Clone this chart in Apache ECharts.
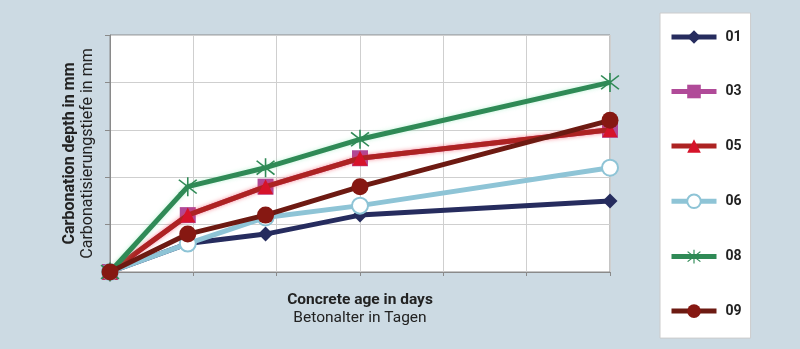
<!DOCTYPE html>
<html>
<head>
<meta charset="utf-8">
<script src="https://cdn.jsdelivr.net/npm/echarts@6/dist/echarts.min.js"></script>
<style>
  html, body { margin: 0; padding: 0; background: #ccdae3; }
  #chart { width: 800px; height: 349px; }
</style>
</head>
<body>
<div id="chart"></div>
<script>
// Concrete age (days) at each measurement
const ages = [0, 28, 56, 90, 180];

// Carbonation depth (mm) per mix
const names = ['01', '03', '05', '06', '08', '09'];
const depth01 = [0, 0.6, 0.8, 1.2, 1.5];
const depth03 = [0, 1.2, 1.8, 2.4, 3.0];
const depth05 = [0, 1.2, 1.8, 2.4, 3.0];
const depth06 = [0, 0.6, 1.15, 1.4, 2.2];
const depth08 = [0, 1.8, 2.2, 2.8, 4.0];
const depth09 = [0, 0.8, 1.2, 1.8, 3.2];

const FONT = 'Roboto, "DejaVu Sans", sans-serif';
const asterisk = 'path://M9.3 0h1.4v20h-1.4z M1.6 3.3 L2.6 2.2 L18.4 16.7 L17.4 17.8 Z M17.4 2.2 L18.4 3.3 L2.6 17.8 L1.6 16.7 Z';

function pairs(vals) {
  return ages.map((a, i) => [a, vals[i]]);
}

const styles = [
  { data: depth01, line: '#262c5e', symbol: 'diamond', size: 15, fill: '#262c5e' },
  { data: depth03, line: '#b04a98', symbol: 'rect', size: 16, fill: '#b04a98' },
  { data: depth05, line: '#ad2322', symbol: 'triangle', size: 15, fill: '#d6132a', glow: 'rgba(240,40,60,0.55)' },
  { data: depth06, line: '#8ec4d6', symbol: 'circle', size: 16, fill: '#ffffff', border: '#8ec4d6' },
  { data: depth08, line: '#2f8a56', symbol: asterisk, size: 19, fill: '#2f8a56', glow: 'rgba(120,230,170,0.45)' },
  { data: depth09, line: '#6d1a12', symbol: 'circle', size: 17, fill: '#861812' }
];

const series = styles.map((s, i) => ({
  name: names[i],
  type: 'line',
  data: pairs(s.data),
  symbol: s.symbol,
  symbolSize: s.size,
  showAllSymbol: true,
  z: 2 + i,
  lineStyle: {
    color: s.line,
    width: 5,
    shadowColor: s.glow || 'transparent',
    shadowBlur: s.glow ? 4 : 0
  },
  itemStyle: {
    color: s.fill,
    borderColor: s.border || s.fill,
    borderWidth: s.border ? 2 : 0,
    opacity: 1
  },
  emphasis: { disabled: true },
  animation: false
}));

const chart = echarts.init(document.getElementById('chart'), null, { renderer: 'canvas' });
chart.setOption({
  backgroundColor: '#ccdae3',
  animation: false,
  textStyle: { fontFamily: FONT },
  grid: {
    left: 110, right: 190, top: 35, bottom: 77,
    show: true, borderColor: '#8a8a8a', borderWidth: 1, backgroundColor: '#ffffff'
  },
  xAxis: {
    type: 'value', min: 0, max: 180, interval: 30,
    axisLine: { show: true, lineStyle: { color: '#8a8a8a', width: 1 } },
    axisTick: { show: true, length: 4, lineStyle: { color: '#8a8a8a' } },
    axisLabel: { show: false },
    splitLine: { show: true, lineStyle: { color: '#cfcfcf', width: 1 } },
    name: '{a|Concrete age in days}\n{b|Betonalter in Tagen}',
    nameLocation: 'middle',
    nameGap: 19,
    nameTextStyle: {
      rich: {
        a: { fontFamily: FONT, fontSize: 15.5, fontWeight: 'bold', color: '#222', lineHeight: 18 },
        b: { fontFamily: FONT, fontSize: 15.5, color: '#222', lineHeight: 18 }
      }
    }
  },
  yAxis: {
    type: 'value', min: 0, max: 5, interval: 1,
    axisLine: { show: true, lineStyle: { color: '#8a8a8a', width: 1 } },
    axisTick: { show: true, length: 5, lineStyle: { color: '#8a8a8a' } },
    axisLabel: { show: false },
    splitLine: { show: true, lineStyle: { color: '#cfcfcf', width: 1 } },
    name: '{a|Carbonation depth in mm}\n{b|Carbonatisierungstiefe in mm}',
    nameLocation: 'middle',
    nameRotate: 90,
    nameGap: 13,
    nameTextStyle: {
      rich: {
        a: { fontFamily: FONT, fontSize: 16, fontWeight: 'bold', color: '#222', lineHeight: 18 },
        b: { fontFamily: FONT, fontSize: 16, color: '#222', lineHeight: 18 }
      }
    }
  },
  legend: {
    orient: 'vertical',
    left: 660, top: 13,
    backgroundColor: '#ffffff',
    borderColor: '#cccccc',
    borderWidth: 1,
    padding: [17, 9, 20, 9],
    itemWidth: 45,
    itemHeight: 17,
    itemGap: 40.5,
    selectedMode: false,
    lineStyle: { width: 5 },
    textStyle: { fontFamily: FONT, fontSize: 14, fontWeight: 'bold', color: '#222', padding: [0, 0, 0, 4] },
    data: names
  },
  series: series
});
</script>
</body>
</html>
